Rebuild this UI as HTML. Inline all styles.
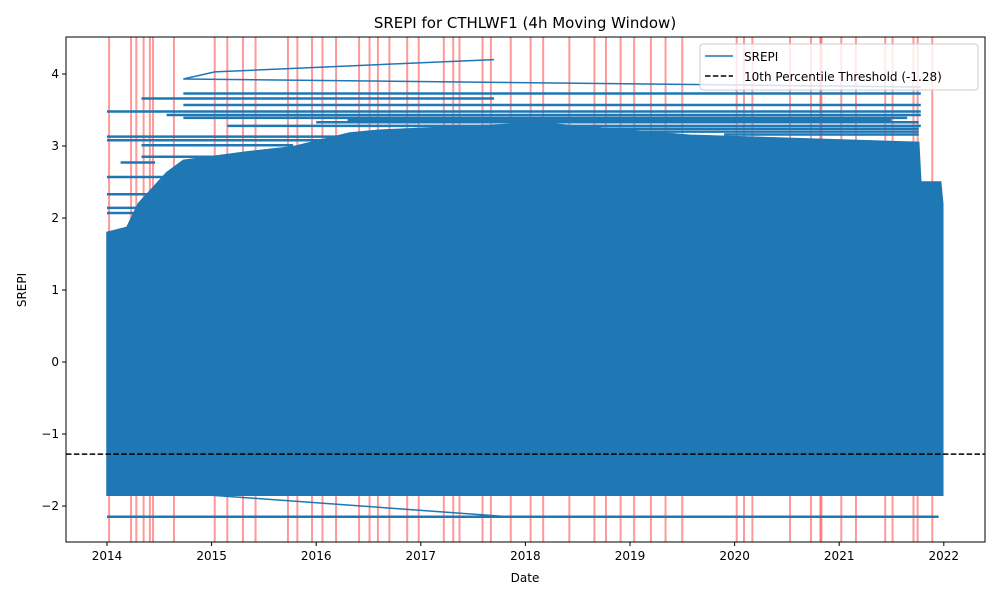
<!DOCTYPE html>
<html><head><meta charset="utf-8"><style>
body{margin:0;background:#fff;font-family:"Liberation Sans","DejaVu Sans",sans-serif;}
svg text{font-family:"DejaVu Sans","Liberation Sans",sans-serif;}
</style></head><body>
<svg id="chart" width="1000" height="600" viewBox="0 0 1000 600">
<rect width="1000" height="600" fill="#fff"/>
<g id="reds"></g>
<g id="series"></g>
<g id="axes"></g>
</svg>
<script>
const redDates=[2014.02,2014.23,2014.28,2014.35,2014.41,2014.44,2014.64,2015.03,2015.15,2015.30,2015.42,2015.73,2015.82,2015.96,2016.06,2016.19,2016.41,2016.51,2016.59,2016.70,2016.87,2016.98,2017.22,2017.31,2017.37,2017.59,2017.67,2017.86,2018.05,2018.17,2018.42,2018.66,2018.77,2018.91,2019.04,2019.20,2019.34,2019.50,2020.02,2020.09,2020.17,2020.53,2020.73,2020.82,2020.83,2021.02,2021.16,2021.44,2021.51,2021.71,2021.75,2021.89];
const envYears=[2014.0,2014.19,2014.30,2014.57,2014.73,2015.35,2015.78,2016.32,2016.61,2018.14,2019.57,2021.76,2021.78,2021.97,2021.99];
const envTop=[1.8,1.87,2.2,2.63,2.8,2.92,2.99,3.18,3.22,3.32,3.15,3.05,2.5,2.5,2.2];
const massBottom=-1.85;
const segStart=[2014.0,2014.73,2014.33,2014.73,2014.57,2014.73,2015.15,2014.0,2014.0,2014.33,2014.33,2014.13,2014.0,2014.0,2014.0,2014.0,2014.0,2016.0,2017.3,2018.5,2019.9,2016.3];
const segEnd=[2021.78,2021.78,2017.7,2021.78,2021.78,2021.65,2021.78,2016.32,2016.32,2015.78,2015.35,2014.46,2014.57,2014.57,2014.33,2014.33,2021.95,2021.76,2021.76,2021.76,2021.76,2021.5];
const segVal=[3.48,3.73,3.66,3.57,3.43,3.39,3.28,3.13,3.08,3.01,2.85,2.77,2.57,2.33,2.14,2.07,-2.15,3.33,3.24,3.2,3.16,3.36];
const diagA_years=[2014.73,2015.03,2017.7];
const diagA_vals=[3.93,4.03,4.2];
const diagB_years=[2014.73,2021.78];
const diagB_vals=[3.93,3.82];
const diagC_years=[2015.0,2017.85];
const diagC_vals=[-1.85,-2.15];
const threshold=-1.28;
const xTicks=[2014,2015,2016,2017,2018,2019,2020,2021,2022];
const yTicks=[-2,-1,0,1,2,3,4];
const L=66,R=985,T=37,B=542;
const xs=y=>107+(y-2014)*104.6;
const ys=v=>362-v*72;
const NS='http://www.w3.org/2000/svg';
function mk(tag,attrs,parent){const e=document.createElementNS(NS,tag);for(const k in attrs)e.setAttribute(k,attrs[k]);parent.appendChild(e);return e;}
const reds=document.getElementById('reds'),series=document.getElementById('series'),axes=document.getElementById('axes');
redDates.forEach(d=>{const l=mk('line',{x1:xs(d),x2:xs(d),y1:T,y2:B,stroke:'#ff0000','stroke-opacity':0.4,'stroke-width':2},reds);

});
let pts=[];envYears.forEach((y,i)=>pts.push(xs(y)+','+ys(envTop[i])));
pts.push(xs(envYears[envYears.length-1])+','+ys(massBottom));pts.push(xs(envYears[0])+','+ys(massBottom));
const poly=mk('polygon',{points:pts.join(' '),fill:'#1f77b4',stroke:'#1f77b4','stroke-width':1.5},series);


segVal.forEach((v,i)=>{const l=mk('line',{x1:xs(segStart[i]),x2:xs(segEnd[i]),y1:ys(v),y2:ys(v),stroke:'#1f77b4','stroke-width':2.5},series);

});
[[diagA_years,diagA_vals],[diagB_years,diagB_vals],[diagC_years,diagC_vals]].forEach(([yy,vv])=>{
const p=mk('polyline',{points:yy.map((y,i)=>xs(y)+','+ys(vv[i])).join(' '),fill:'none',stroke:'#1f77b4','stroke-width':1.5},series);

});
const th=mk('line',{x1:L,x2:R,y1:ys(threshold),y2:ys(threshold),stroke:'#000','stroke-width':1.5,'stroke-dasharray':'5.5,2.4'},series);


const frame=mk('rect',{x:L,y:T,width:R-L,height:B-T,fill:'none',stroke:'#000','stroke-width':1},axes);


xTicks.forEach(t=>{const x=xs(t);mk('line',{x1:x,x2:x,y1:B,y2:B+4,stroke:'#000'},axes);
const tx=mk('text',{x:x,y:B+18,'text-anchor':'middle','font-size':12},axes);tx.textContent=t;

});
yTicks.forEach(t=>{const y=ys(t);mk('line',{x1:L-4,x2:L,y1:y,y2:y,stroke:'#000'},axes);
const tx=mk('text',{x:L-7,y:y+4,'text-anchor':'end','font-size':12},axes);tx.textContent=(t<0?'\u2212'+(-t):t);

});
</script>
<svg width="1000" height="600" style="position:absolute;left:0;top:0">
<text x="525" y="28" text-anchor="middle" font-size="15">SREPI for CTHLWF1 (4h Moving Window)</text>
<text x="525" y="582" text-anchor="middle" font-size="12">Date</text>
<text x="26" y="290" text-anchor="middle" font-size="12" transform="rotate(-90 26 290)">SREPI</text>
<g>
<rect x="700" y="44" width="278" height="46" rx="3" fill="#fff" fill-opacity="0.8" stroke="#ccc"/>
<line x1="705" x2="733" y1="56" y2="56" stroke="#1f77b4" stroke-width="1.5"/>
<text x="744" y="61" font-size="12">SREPI</text>
<line x1="705" x2="733" y1="76" y2="76" stroke="#000" stroke-width="1.5" stroke-dasharray="5.5,2.4"/>
<text x="744" y="81" font-size="12">10th Percentile Threshold (-1.28)</text>
</g>
</svg>
</body></html>
